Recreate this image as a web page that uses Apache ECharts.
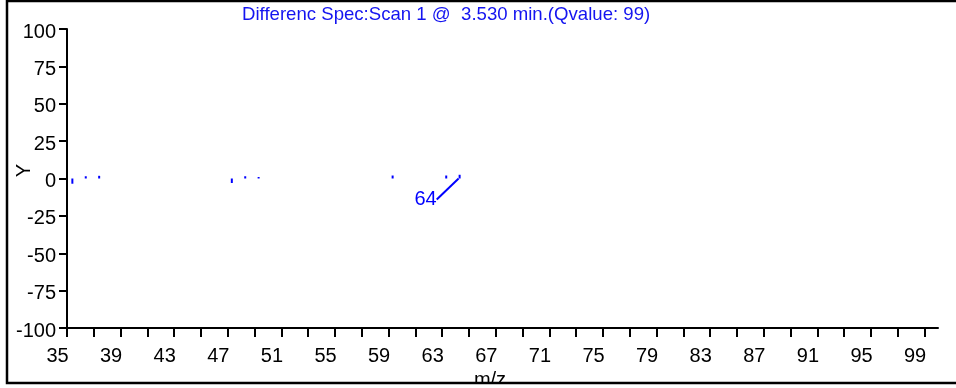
<!DOCTYPE html>
<html>
<head>
<meta charset="utf-8">
<script src="https://cdn.jsdelivr.net/npm/echarts@6/dist/echarts.min.js"></script>
<style>
  html, body { margin: 0; padding: 0; background: #fff; }
  #chart { width: 956px; height: 388px; }
</style>
</head>
<body>
<div id="chart"></div>
<script>
// Difference spectrum peaks: m/z position and relative intensity
var mzValues = [35.4, 36.4, 37.4, 47.3, 48.3, 49.3, 59.3, 63.3, 64.3];
var diffValues = [-3.5, 1.5, 1.8, -3, 1.5, 1, 2, 2, 2.5];
// Peak labels (empty string = no label)
var peakLabels = ['', '', '', '', '', '', '', '', '64'];

// Axis ticks and labels
var xLabelValues = [35, 39, 43, 47, 51, 55, 59, 63, 67, 71, 75, 79, 83, 87, 91, 95, 99];
var xTickValues = [35, 37, 39, 41, 43, 45, 47, 49, 51, 53, 55, 57, 59, 61, 63, 65, 67,
                   69, 71, 73, 75, 77, 79, 81, 83, 85, 87, 89, 91, 93, 95, 97, 99];

var FONT = '"Liberation Sans", Arial, sans-serif';
var BLUE = '#0000ff';

var barData = mzValues.map(function (mz, i) {
  var item = { value: [mz, diffValues[i]] };
  if (peakLabels[i]) {
    item.label = {
      show: true,
      position: 'bottom',
      formatter: peakLabels[i],
      color: BLUE,
      fontSize: 20,
      fontFamily: FONT
    };
    item.labelLine = { show: true, lineStyle: { color: BLUE, width: 2 } };
  }
  return item;
});

var chart = echarts.init(document.getElementById('chart'), null, { renderer: 'canvas' });
chart.setOption({
  backgroundColor: '#ffffff',
  animation: false,
  title: {
    text: 'Differenc Spec:Scan 1 @  3.530 min.(Qvalue: 99)',
    left: 242,
    top: 5,
    padding: 0,
    textStyle: { color: '#1414f0', fontSize: 18.6, fontWeight: 'normal', fontFamily: FONT }
  },
  grid: { left: 67, right: 18, top: 29, bottom: 60, containLabel: false, outerBoundsMode: 'none' },
  xAxis: {
    type: 'value',
    min: 35,
    max: 100,
    name: 'm/z',
    nameLocation: 'middle',
    nameGap: 42,
    nameMoveOverlap: false,
    nameTextStyle: { color: '#000', fontSize: 20, fontFamily: FONT, padding: [0, 25, 0, 0] },
    axisLine: { onZero: false, lineStyle: { color: '#000', width: 2 } },
    axisTick: { show: true, length: 9, customValues: xTickValues, lineStyle: { color: '#000', width: 2 } },
    axisLabel: {
      customValues: xLabelValues,
      color: '#000', fontSize: 20, fontFamily: FONT,
      margin: 18, align: 'center', padding: [0, 19, 0, 0]
    },
    splitLine: { show: false }
  },
  yAxis: {
    type: 'value',
    min: -100,
    max: 100,
    interval: 25,
    name: 'Y',
    nameLocation: 'middle',
    nameGap: 33,
    nameMoveOverlap: false,
    nameTextStyle: { color: '#000', fontSize: 20, fontFamily: FONT, padding: [0, 0, 0, 16] },
    axisLine: { show: true, lineStyle: { color: '#000', width: 2 } },
    axisTick: { show: true, length: 8, lineStyle: { color: '#000', width: 2 } },
    axisLabel: {
      color: '#000', fontSize: 20, fontFamily: FONT, margin: 11,
      verticalAlign: 'top', lineHeight: 6
    },
    splitLine: { show: false }
  },
  series: [{
    type: 'bar',
    data: barData,
    barWidth: 2,
    itemStyle: { color: BLUE },
    labelLayout: { dx: -34, dy: 6 },
    label: { show: false }
  }],
  graphic: [
    {
      type: 'rect',
      z: 100,
      shape: { x: 0, y: 384, width: 956, height: 4 },
      style: { fill: '#fff' },
      silent: true
    },
    {
      type: 'rect',
      z: 101,
      shape: { x: 7, y: 1, width: 960, height: 382 },
      style: { fill: null, stroke: '#000', lineWidth: 2.5 },
      silent: true
    }
  ]
});
</script>
</body>
</html>
